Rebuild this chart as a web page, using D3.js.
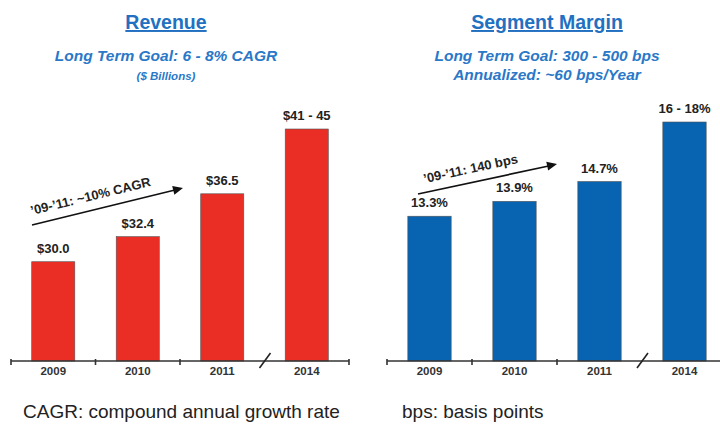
<!DOCTYPE html>
<meta charset="utf-8">
<style>
  body { margin: 0; background: #fff; }
  svg { font-family: "Liberation Sans", Arial, sans-serif; }
  .title { fill: #2270c2; font-weight: bold; font-size: 19.5px; text-decoration: underline; }
  .sub { fill: #2a78c8; font-weight: bold; font-style: italic; }
  .bar-label { font-weight: bold; font-size: 13px; fill: #222; }
  .axis .domain { stroke: #333; stroke-width: 1.6; }
  .axis text { font-size: 11.5px; font-weight: bold; fill: #333; }
  .note { font-size: 19px; fill: #222; }
</style>
<svg width="720" height="429"></svg>
<script src="https://cdn.jsdelivr.net/npm/d3@7"></script>
<script>
  var years = ["2009", "2010", "2011", "2014"];
  var revenue = [30.0, 32.4, 36.5, 42.7];
  var revenueLabels = ["$30.0", "$32.4", "$36.5", "$41 - 45"];
  var margin = [13.3, 13.9, 14.7, 17.1];
  var marginLabels = ["13.3%", "13.9%", "14.7%", "16 - 18%"];

  var svg = d3.select("svg");
  var baseY = 361;

  function panel(opt) {
    var g = svg.append("g");
    var x = d3.scaleBand().domain(years).range(opt.xr).paddingInner(0.49).paddingOuter(0.245);
    var y = d3.scaleLinear().domain(opt.yd).range([baseY, opt.yTop]);

    g.selectAll("rect.bar").data(opt.values).join("rect")
      .attr("class", "bar")
      .attr("x", function(d, i) { return x(years[i]); })
      .attr("y", function(d) { return y(d); })
      .attr("width", x.bandwidth())
      .attr("height", function(d) { return baseY - y(d); })
      .attr("fill", opt.color)
      .attr("stroke", "#555")
      .attr("stroke-width", 0.6);

    g.selectAll("text.bar-label").data(opt.values).join("text")
      .attr("class", "bar-label")
      .attr("x", function(d, i) { return x(years[i]) + x.bandwidth() / 2; })
      .attr("y", function(d) { return y(d) - 9; })
      .attr("text-anchor", "middle")
      .text(function(d, i) { return opt.labels[i]; });

    var axis = g.append("g").attr("class", "axis")
      .attr("transform", "translate(0," + baseY + ")")
      .call(d3.axisBottom(x).tickSize(0).tickPadding(6));
    axis.select(".domain").attr("d", "M" + opt.xr[0] + ",0H" + Math.min(opt.xr[1], 720));

    // small ticks at band boundaries, skip the one at the break
    var bounds = [0, 1, 2, 4].map(function(i) { return opt.xr[0] + i * x.step(); });
    g.selectAll("line.tk").data(bounds).join("line")
      .attr("x1", function(d) { return d; }).attr("x2", function(d) { return d; })
      .attr("y1", baseY - 2).attr("y2", baseY + 4)
      .attr("stroke", "#333").attr("stroke-width", 1.6);

    var bx = opt.xr[0] + 3 * x.step();
    g.append("line")
      .attr("x1", bx - 5).attr("y1", baseY + 7).attr("x2", bx + 6).attr("y2", baseY - 8)
      .attr("stroke", "#222").attr("stroke-width", 1.6);

    // titles
    svg.append("text").attr("class", "title").attr("x", opt.cx).attr("y", 29)
      .attr("text-anchor", "middle").text(opt.title);
    opt.subs.forEach(function(s, i) {
      svg.append("text").attr("class", "sub").attr("x", opt.cx).attr("y", 61 + i * 18.5)
        .attr("text-anchor", "middle").style("font-size", s.size + "px").text(s.text);
    });

    // trend arrow
    var a = opt.arrow;
    g.append("line")
      .attr("x1", a[0]).attr("y1", a[1]).attr("x2", a[2] - 6).attr("y2", a[3] + 1.5)
      .attr("stroke", "#111").attr("stroke-width", 1.7);
    var ang = Math.atan2(a[3] - a[1], a[2] - a[0]);
    var deg = ang * 180 / Math.PI;
    g.append("path")
      .attr("d", "M0,0L-10,-4.5L-10,4.5Z")
      .attr("fill", "#111")
      .attr("transform", "translate(" + a[2] + "," + a[3] + ") rotate(" + deg + ")");
    var mx = (a[0] + a[2]) / 2 - 16, my = (a[1] + a[3]) / 2 - 6;
    g.append("text").attr("class", "bar-label")
      .attr("transform", "translate(" + mx + "," + my + ") rotate(" + deg + ")")
      .attr("text-anchor", "middle")
      .style("font-size", "13px")
      .text(opt.trend);

    svg.append("text").attr("class", "note").attr("x", opt.noteX).attr("y", 418).text(opt.note);
  }

  panel({
    xr: [11, 349], yd: [20.5, 42.7], yTop: 129, values: revenue, labels: revenueLabels,
    color: "#ea2e25", cx: 166, title: "Revenue",
    subs: [{ text: "Long Term Goal: 6 - 8% CAGR", size: 15.5 }, { text: "($ Billions)", size: 11.5 }],
    arrow: [32, 225, 183, 188], trend: "\u201909-\u201911: ~10% CAGR",
    note: "CAGR: compound annual growth rate", noteX: 23
  });

  panel({
    xr: [387, 727], yd: [7.46, 17.1], yTop: 122, values: margin, labels: marginLabels,
    color: "#0863b1", cx: 547, title: "Segment Margin",
    subs: [{ text: "Long Term Goal: 300 - 500 bps", size: 15.5 }, { text: "Annualized: ~60 bps/Year", size: 15.5 }],
    arrow: [418, 194, 557, 164], trend: "\u201909-\u201911: 140 bps",
    note: "bps: basis points", noteX: 402
  });
</script>
